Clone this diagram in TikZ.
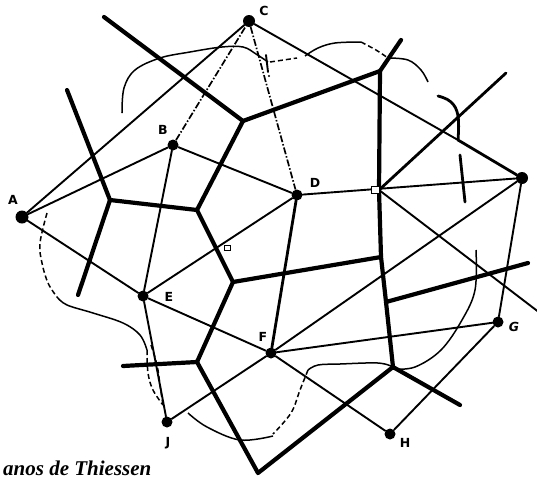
\documentclass[tikz,border=0pt]{standalone}
\usepackage{fontspec}
\setmainfont{Liberation Serif}
\newfontfamily\labfont{DejaVu Sans}
\begin{document}
\begin{tikzpicture}[x=1pt,y=-1pt,
 vor/.style={line width=4.2pt,line cap=round,line join=round},
 vorm/.style={line width=2.8pt,line cap=round},
 del/.style={line width=1.9pt,line cap=round},
 bnd/.style={line width=1.5pt},
 bnddash/.style={line width=1.5pt,dash pattern=on 5pt off 3pt},
 dd/.style={line width=1.7pt,dash pattern=on 7pt off 2pt on 1.5pt off 2pt},
 stn/.style={circle,fill=black,inner sep=0pt,minimum size=11pt},
 lab/.style={font=\labfont\bfseries\fontsize{12.5}{12.5}\selectfont,inner sep=0pt}]
\useasboundingbox (0,0) rectangle (537,482);
\fill[white] (0,0) rectangle (537,482);

% stations
\node[stn,minimum size=13pt] (A) at (22,217) {};
\node[stn] (B) at (173,145) {};
\node[stn,minimum size=12pt] (C) at (249,21) {};
\node[stn] (D) at (297,195) {};
\node[stn] (E) at (143,296) {};
\node[stn] (F) at (271,353) {};
\node[stn] (G) at (498,322) {};
\node[stn] (H) at (390,434) {};
\node[stn,minimum size=12pt] (I) at (522,178) {};
\node[stn] (J) at (167,422) {};

% labels
\node[lab] (lA) at (13,200) {A};
\node[lab] (lB) at (163,130) {B};
\node[lab] (lC) at (264,11) {C};
\node[lab] (lD) at (315,183) {D};
\node[lab] (lE) at (169,297) {E};
\node[lab] (lF) at (263,337) {F};
\node[lab,font=\labfont\bfseries\itshape\fontsize{12.5}{12.5}\selectfont] (lG) at (514,327) {G};
\node[lab] (lH) at (405,443) {H};
\node[lab] (lJ) at (168,443) {J};

% Voronoi vertices and free ends
\coordinate (V1) at (243,121);
\coordinate (V2) at (380,71);
\coordinate (V3) at (393,367);
\coordinate (V4) at (197,210);
\coordinate (V5) at (110,200);
\coordinate (V6) at (233,282);
\coordinate (V7) at (197,362);
\coordinate (V8) at (258,473);
\coordinate (Q) at (379,190);
\coordinate (R) at (381,257);
\coordinate (S) at (386,302);
\coordinate (T1) at (104,17);
\coordinate (T2) at (401,40);
\coordinate (T3) at (67,90);
\coordinate (T4) at (78,295);
\coordinate (T5) at (123,366);
\coordinate (T6) at (460,405);
\coordinate (T7) at (528,263);
\coordinate (T8) at (506,73);
\coordinate (T9) at (540,313);
\coordinate (K1) at (458,140);

% Delaunay (thin) lines
\draw[del] (A) -- (C);
\draw[del] (A) -- (B);
\draw[del] (A) -- (E);
\draw[dd] (B) -- (C);
\draw[del] (B) -- (D);
\draw[del] (B) -- (E);
\draw[dd] (C) -- (D);
\draw[del] (C) -- (K1);
\draw[vorm] (K1) -- (I);
\draw[del] (D) -- (I);
\draw[del] (D) -- (E);
\draw[vorm] (D) -- (F);
\draw[del] (E) -- (F);
\draw[del] (E) -- (J);
\draw[del] (F) -- (J);
\draw[del] (F) -- (H);
\draw[del] (F) -- (G);
\draw[del] (F) -- (I);
\draw[del] (G) -- (H);
\draw[del] (G) -- (I);

% Voronoi (thick) edges
\draw[vor] (T1) -- (V1) -- (V2) -- (T2);
\draw[vor] (V2) -- (Q) -- (R) -- (S) -- (V3);
\draw[vor] (V1) -- (V4) -- (V5) -- (T3);
\draw[vor] (V5) -- (T4);
\draw[vor] (V4) -- (V6) -- (R);
\draw[vor] (V6) -- (V7) -- (T5);
\draw[vor] (V7) -- (V8) -- (V3) -- (T6);
\draw[vor] (S) -- (T7);
\draw[vorm] (Q) -- (T8);
\draw[del] (Q) -- (T9);
\draw[fill=white,line width=1pt] (371,186) rectangle (379,193);
\draw[fill=white,line width=1pt] (224,245) rectangle (230,250);

% ticks
\draw[vorm] (460,155) -- (465,202);
\draw[del] (266,55) -- (268,72);
\fill (269,76) circle (1.2pt);

% basin boundary
\draw[bnd] plot[smooth,tension=0.6] coordinates {(122,113) (124,88) (135,70) (160,58) (190,52) (222,47) (243,47) (256,54) (268,62)};
\draw[bnddash] (270,62) -- (297,58);
\draw[bnd] plot[smooth,tension=0.6] coordinates {(305,56) (318,48) (335,43) (361,42)};
\draw[bnddash] plot[smooth] coordinates {(361,42) (376,50) (388,58)};
\draw[bnd] plot[smooth,tension=0.6] coordinates {(388,58) (408,60) (421,70) (428,82)};
\draw[vorm] plot[smooth,tension=0.7] coordinates {(438,96) (451,102) (458,116) (K1)};
\draw[bnd] plot[smooth,tension=0.6] coordinates {(476,250) (475,290) (462,320) (441,350) (415,367) (393,369)};
\draw[bnd] plot[smooth,tension=0.6] coordinates {(393,367) (378,363) (340,364) (318,365) (308,370)};
\draw[bnddash] plot[smooth,tension=0.6] coordinates {(308,370) (300,390) (291,413) (273,434)};
\draw[bnd] plot[smooth,tension=0.6] coordinates {(273,436) (240,440) (207,427) (188,413)};
\draw[bnddash] plot[smooth,tension=0.6] coordinates {(47,213) (40,243) (42,263) (48,283) (57,297)};
\draw[bnd] plot[smooth,tension=0.6] coordinates {(57,297) (67,305) (93,313) (123,323) (140,335) (147,350)};
\draw[bnddash] plot[smooth,tension=0.6] coordinates {(147,350) (148,373) (153,390) (163,405)};
\draw[bnddash] plot[smooth,tension=0.6] coordinates {(151,345) (157,365) (160,385) (163,405)};

% caption
\node[anchor=base west,inner sep=0pt,font=\bfseries\itshape\fontsize{21}{21}\selectfont] (cap) at (3,475) {anos de Thiessen};
\end{tikzpicture}
\end{document}
